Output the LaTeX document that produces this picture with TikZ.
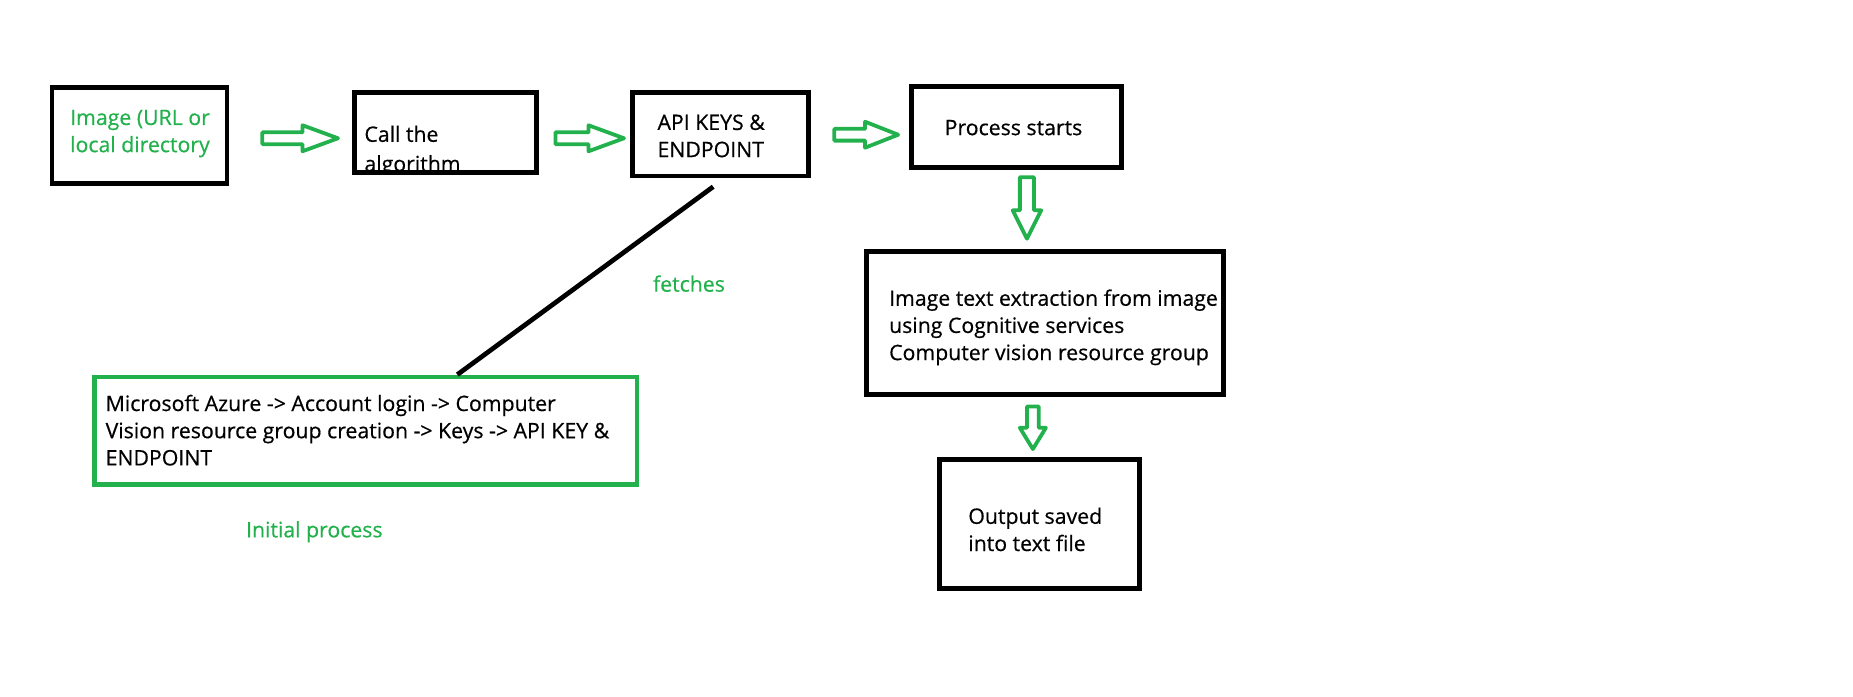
\documentclass[tikz,border=0pt]{standalone}
\usepackage{fontspec}
\setmainfont{Open Sans}[FakeBold=0.5]
\usetikzlibrary{fit,calc}
\definecolor{pgreen}{RGB}{34,177,76}
\newcommand\myharr[5]{\draw[garrow] let \p1=#1, \p2=#2 in
  (\x1,\y1+#3) -- (\x2-#5,\y1+#3) -- (\x2-#5,\y1+#4) -- (\x2,\y1) --
  (\x2-#5,\y1-#4) -- (\x2-#5,\y1-#3) -- (\x1,\y1-#3) -- cycle;}
\newcommand\myvarr[5]{\draw[garrow] let \p1=#1, \p2=#2 in
  (\x1+#3,\y1) -- (\x1+#3,\y2+#5) -- (\x1+#4,\y2+#5) -- (\x1,\y2) --
  (\x1-#4,\y2+#5) -- (\x1-#3,\y2+#5) -- (\x1-#3,\y1) -- cycle;}
\begin{document}
\begin{tikzpicture}[x=0.5pt,y=-0.5pt,
  box/.style={draw, line width=2pt, inner sep=0pt},
  gbox/.style={draw=pgreen, line width=2pt, inner sep=0pt},
  txt/.style={font=\fontsize{9}{11.5}\selectfont, align=left, inner sep=0pt, anchor=west},
  garrow/.style={draw=pgreen, line width=1.6pt, line join=round}]
\useasboundingbox (0,0) rectangle (1568,589);
\node[box, fit={(44,74) (192,155)}] (b1) {};
\node[box, fit={(300,78) (454,146)}] (b2) {};
\node[box, fit={(535,78) (684,149)}] (b3) {};
\node[box, fit={(771,73) (949,142)}] (b4) {};
\node[box, fit={(733,213) (1035,334)}] (b5) {};
\node[box, fit={(795,389) (964,498)}] (b6) {};
\node[gbox, fit={(80,319) (539,410)}] (g) {};
% texts
\node[txt, text=pgreen] (t1) at (59,113) {Image (URL or\\local directory};
\begin{scope}
  \clip (300,78) rectangle (454,144);
  \node[txt, anchor=base west] (t2a) at (308,120) {Call the};
  \node[txt, anchor=base west] (t2b) at (308,145) {algorithm};
\end{scope}
\node[txt] (t3) at (556,115) {API KEYS \&\\ENDPOINT};
\node[txt] (t4) at (799,108) {Process starts};
\node[txt] (t5) at (752,277) {Image text extraction from image\\using Cognitive services\\Computer vision resource group};
\node[txt] (t6) at (819,448) {Output saved\\into text file};
\node[txt] (tg) at (89,364) {Microsoft Azure -> Account login -> Computer\\Vision resource group creation -> Keys -> API KEY \&\\ENDPOINT};
\node[txt, anchor=center, text=pgreen] (fetch) at (583,240) {fetches};
\node[txt, anchor=center, text=pgreen] (init) at (266,450) {Initial process};
% arrows
\myharr{($(b1.east)+(28,2.5)$)}{($(b2.west)+(-12,0)$)}{2.5pt}{5.5pt}{15pt}
\myharr{($(b2.east)+(14,5)$)}{($(b3.west)+(-5,0)$)}{2.5pt}{5.5pt}{15pt}
\myharr{($(b3.east)+(20,0.5)$)}{($(b4.west)+(-9,0)$)}{2.5pt}{5.5pt}{14pt}
\myvarr{($(b4.south)+(9,6)$)}{($(b5.north)+(0,-9)$)}{3pt}{6pt}{12pt}
\myvarr{($(b5.south)+(-10,8)$)}{($(b6.north)+(0,-7)$)}{2.5pt}{5.5pt}{9pt}
% fetch line
\coordinate (fs) at ($(b3.south)+(-6,7)$);
\coordinate (fe) at ($(g.north)+(77.5,0)$);
\draw[line width=2pt] (fs) -- (fe);
\end{tikzpicture}
\end{document}
